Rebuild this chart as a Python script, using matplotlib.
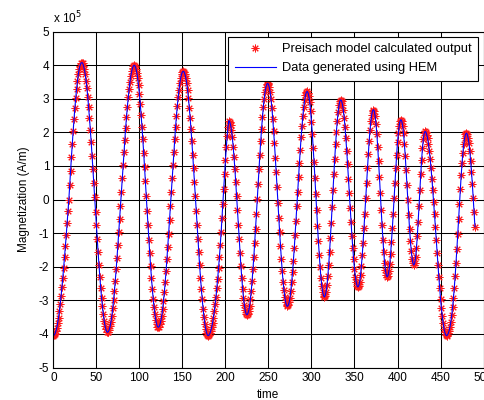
import numpy as np
import matplotlib
matplotlib.use("Agg")
import matplotlib.pyplot as plt
from matplotlib.ticker import FuncFormatter

plt.rcParams['font.family'] = ['Liberation Sans', 'DejaVu Sans']

# Magnetization samples (units of 1e5 A/m), one per time step t = 0..490
magnetization_e5 = [
    # 0..33
    -4.05, -4.03, -3.99, -3.91, -3.81, -3.67, -3.51, -3.32, -3.10, -2.86,
    -2.60, -2.32, -2.03, -1.71, -1.39, -1.05, -0.70, -0.35, 0.00, 0.43,
    0.85, 1.26, 1.66, 2.04, 2.40, 2.73, 3.03, 3.30, 3.53, 3.73,
    3.88, 3.99, 4.06, 4.08,
    # 34..63
    4.06, 3.99, 3.88, 3.73, 3.54, 3.31, 3.05, 2.75, 2.42, 2.07,
    1.70, 1.31, 0.90, 0.49, 0.07, -0.36, -0.77, -1.18, -1.57, -1.94,
    -2.30, -2.62, -2.92, -3.18, -3.41, -3.60, -3.75, -3.86, -3.93, -3.95,
    # 64..94
    -3.93, -3.87, -3.77, -3.63, -3.45, -3.24, -2.99, -2.71, -2.41, -2.08,
    -1.73, -1.36, -0.97, -0.58, -0.18, 0.23, 0.63, 1.02, 1.41, 1.78,
    2.13, 2.46, 2.76, 3.04, 3.29, 3.50, 3.68, 3.82, 3.92, 3.98, 4.00,
    # 95..122
    3.98, 3.90, 3.78, 3.61, 3.40, 3.15, 2.86, 2.53, 2.17, 1.79,
    1.39, 0.97, 0.54, 0.10, -0.34, -0.77, -1.19, -1.59, -1.97, -2.33,
    -2.66, -2.95, -3.20, -3.41, -3.58, -3.70, -3.78, -3.80,
    # 123..151
    -3.78, -3.71, -3.60, -3.45, -3.25, -3.02, -2.76, -2.46, -2.13, -1.77,
    -1.40, -1.01, -0.61, -0.20, 0.22, 0.63, 1.03, 1.42, 1.79, 2.15,
    2.48, 2.78, 3.04, 3.27, 3.47, 3.62, 3.73, 3.80, 3.82,
    # 152..180
    3.80, 3.73, 3.61, 3.46, 3.26, 3.02, 2.74, 2.43, 2.09, 1.73,
    1.34, 0.94, 0.52, 0.10, -0.33, -0.75, -1.17, -1.57, -1.96, -2.32,
    -2.66, -2.97, -3.25, -3.49, -3.69, -3.84, -3.96, -4.03, -4.05,
    # 181..204
    -4.03, -3.98, -3.90, -3.80, -3.67, -3.51, -3.33, -3.12, -2.89, -2.63,
    -2.35, -2.05, -1.72, -1.36, -0.97, -0.56, -0.13, 0.31, 0.75, 1.17,
    1.56, 1.90, 2.17, 2.35,
    # 205..225
    2.32, 2.22, 2.06, 1.85, 1.58, 1.26, 0.91, 0.52, 0.10, -0.32,
    -0.76, -1.18, -1.60, -1.99, -2.34, -2.66, -2.93, -3.14, -3.30, -3.40,
    -3.43,
    # 226..249
    -3.40, -3.31, -3.17, -2.97, -2.72, -2.42, -2.08, -1.71, -1.30, -0.88,
    -0.43, 0.02, 0.47, 0.91, 1.33, 1.74, 2.11, 2.45, 2.75, 3.00,
    3.20, 3.34, 3.43, 3.46,
    # 250..272
    3.43, 3.34, 3.19, 2.98, 2.72, 2.41, 2.05, 1.67, 1.25, 0.82,
    0.37, -0.09, -0.54, -0.97, -1.39, -1.77, -2.13, -2.44, -2.70, -2.91,
    -3.06, -3.15, -3.18,
    # 273..295
    -3.15, -3.06, -2.92, -2.71, -2.46, -2.16, -1.82, -1.45, -1.05, -0.63,
    -0.20, 0.24, 0.67, 1.09, 1.49, 1.87, 2.20, 2.50, 2.75, 2.96,
    3.10, 3.19, 3.22,
    # 296..315
    3.18, 3.07, 2.89, 2.64, 2.32, 1.96, 1.55, 1.11, 0.64, 0.16,
    -0.32, -0.79, -1.23, -1.64, -2.00, -2.32, -2.57, -2.75, -2.86, -2.90,
    # 316..334
    -2.86, -2.74, -2.55, -2.28, -1.95, -1.57, -1.14, -0.69, -0.21, 0.28,
    0.76, 1.21, 1.64, 2.02, 2.35, 2.62, 2.81, 2.93, 2.97,
    # 335..354
    2.94, 2.83, 2.67, 2.44, 2.15, 1.82, 1.45, 1.05, 0.62, 0.19,
    -0.25, -0.68, -1.08, -1.45, -1.78, -2.07, -2.30, -2.46, -2.57, -2.60,
    # 355..372
    -2.56, -2.44, -2.25, -1.98, -1.66, -1.28, -0.86, -0.42, 0.04, 0.50,
    0.94, 1.36, 1.74, 2.06, 2.33, 2.52, 2.64, 2.68,
    # 373..388
    2.63, 2.49, 2.26, 1.95, 1.57, 1.14, 0.68, 0.19, -0.30, -0.76,
    -1.19, -1.57, -1.88, -2.11, -2.25, -2.30,
    # 389..404
    -2.26, -2.12, -1.91, -1.62, -1.26, -0.86, -0.42, 0.04, 0.50, 0.94,
    1.34, 1.70, 1.99, 2.20, 2.34, 2.38,
    # 405..419
    2.33, 2.19, 1.97, 1.66, 1.30, 0.88, 0.44, -0.01, -0.45, -0.87,
    -1.23, -1.54, -1.76, -1.90, -1.95,
    # 420..432
    -1.89, -1.72, -1.45, -1.09, -0.67, -0.20, 0.28, 0.75, 1.17, 1.53,
    1.80, 1.97, 2.03,
    # 433..457
    2.01, 1.93, 1.82, 1.65, 1.45, 1.21, 0.93, 0.62, 0.28, -0.07,
    -0.44, -0.82, -1.20, -1.58, -1.95, -2.30, -2.64, -2.95, -3.23, -3.47,
    -3.67, -3.84, -3.95, -4.03, -4.05,
    # 458..480
    -4.03, -3.98, -3.90, -3.78, -3.63, -3.44, -3.21, -2.94, -2.63, -2.28,
    -1.89, -1.47, -1.03, -0.58, -0.13, 0.31, 0.72, 1.09, 1.40, 1.65,
    1.83, 1.94, 1.98,
    # 481..490
    1.95, 1.84, 1.68, 1.45, 1.16, 0.83, 0.46, 0.05, -0.37, -0.81,
]

time = np.arange(len(magnetization_e5))
preisach_output = np.array(magnetization_e5) * 1e5   # A/m
hem_data = np.array(magnetization_e5) * 1e5          # A/m (overlaps model output)

x_ticks = [0, 50, 100, 150, 200, 250, 300, 350, 400, 450, 500]
y_ticks_e5 = [-5, -4, -3, -2, -1, 0, 1, 2, 3, 4, 5]

fig = plt.figure(figsize=(4.85, 4.0), dpi=100)
ax = fig.add_axes([0.110, 0.081, 0.887, 0.840])

ax.plot(time, preisach_output, linestyle='none', marker=(8, 2, 0), markersize=5.5,
        markeredgewidth=0.7, color='#ff1a1a', label='Preisach model calculated output')
ax.plot(time, hem_data, color='#0000ff', linewidth=0.8, label='Data generated using HEM')

ax.set_xlim(0, 500)
ax.set_ylim(-5e5, 5e5)
ax.set_xticks(x_ticks)
ax.set_yticks([v * 1e5 for v in y_ticks_e5])
ax.yaxis.set_major_formatter(FuncFormatter(lambda v, p: f"{v/1e5:g}"))
ax.tick_params(direction='in', labelsize=8.5, length=3, width=0.6,
               top=True, right=True, pad=3)
ax.grid(True, color='black', linewidth=0.75, linestyle='-')
ax.set_axisbelow(True)
for s in ax.spines.values():
    s.set_linewidth(0.8)

ax.text(0.0, 1.015, r'x 10$^5$', transform=ax.transAxes, fontsize=8.5,
        ha='left', va='bottom')
ax.set_xlabel('time', fontsize=8.5, labelpad=4)
ax.set_ylabel('Magnetization (A/m)', fontsize=8.5, labelpad=6)

leg = ax.legend(loc='upper right', fontsize=9.3, fancybox=False, framealpha=1,
                edgecolor='black', borderaxespad=0.4, handlelength=3.2,
                borderpad=0.5, labelspacing=0.55, handletextpad=0.5)
leg.get_frame().set_linewidth(0.8)

fig.savefig('out.png', dpi=100)
